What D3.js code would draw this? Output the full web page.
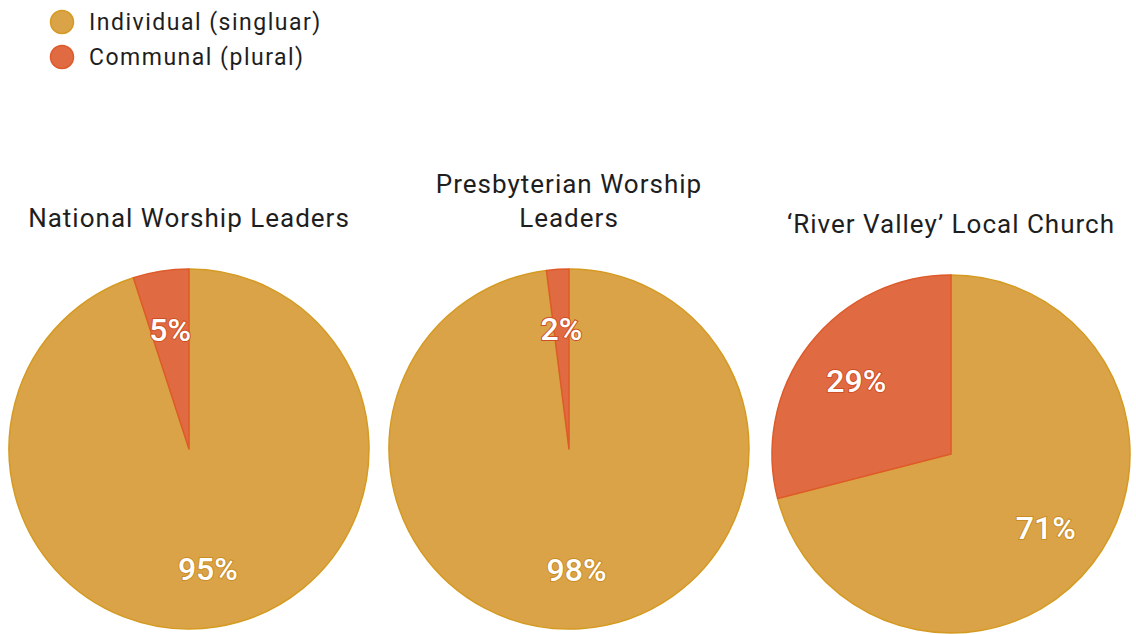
<!DOCTYPE html>
<html>
<head>
<meta charset="utf-8">
<script src="https://cdn.jsdelivr.net/npm/d3@7"></script>
<style>
  html, body { margin: 0; padding: 0; background: #ffffff; }
  svg { display: block; }
</style>
</head>
<body>
<svg id="chart" width="1136" height="634"></svg>
<script>
// Response categories
const legendLabels = ["Individual (singluar)", "Communal (plural)"];
// Panel titles (one entry per line)
const panelTitles = [
  ["National Worship Leaders"],
  ["Presbyterian Worship", "Leaders"],
  ["\u2018River Valley\u2019 Local Church"]
];
// Shares in percent, per panel
const individualShare = [95, 98, 71];
const communalShare = [5, 2, 29];

const fills = ["#DBA347", "#E06B43"];
const edges = ["#D49A22", "#DE5A2A"];
const halos = ["#C98C25", "#CF4F25"];

const svg = d3.select("#chart");
const font = "Roboto, 'Open Sans', sans-serif";

// Legend
const legend = svg.append("g").attr("transform", "translate(62,22)");
legendLabels.forEach((lab, i) => {
  const g = legend.append("g").attr("transform", `translate(0,${i * 35})`);
  g.append("circle").attr("r", 11.5).attr("fill", fills[i])
    .attr("stroke", edges[i]).attr("stroke-width", 1.5);
  g.append("text").attr("x", 27).attr("y", 0).attr("dy", "0.35em")
    .attr("font-family", font).attr("font-size", 23)
    .attr("letter-spacing", 1.5).attr("fill", "#1e1e1e")
    .text(lab);
});

// Panel layout
const centres = [
  { x: 189, y: 449, r: 180, titleY: 227 },
  { x: 569, y: 449, r: 180, titleY: 227 },
  { x: 951, y: 454, r: 179, titleY: 233 }
];

const pie = d3.pie().sort(null).value(d => d.value);

centres.forEach((c, p) => {
  const data = [
    { key: legendLabels[0], value: individualShare[p], idx: 0 },
    { key: legendLabels[1], value: communalShare[p], idx: 1 }
  ];
  const arcs = pie(data);
  const arc = d3.arc().innerRadius(0).outerRadius(c.r);
  const labelArc = d3.arc().innerRadius(c.r * 0.67).outerRadius(c.r * 0.67);

  const g = svg.append("g").attr("transform", `translate(${c.x},${c.y})`);

  g.selectAll("path.slice").data(arcs).join("path")
    .attr("class", "slice")
    .attr("d", arc)
    .attr("fill", d => fills[d.data.idx])
    .attr("stroke", d => edges[d.data.idx])
    .attr("stroke-width", 1.5)
    .attr("stroke-linejoin", "round");

  g.selectAll("text.val").data(arcs).join("text")
    .attr("class", "val")
    .attr("transform", d => `translate(${labelArc.centroid(d)})`)
    .attr("text-anchor", "middle")
    .attr("dy", "0.36em")
    .attr("font-family", font)
    .attr("font-size", 32)
    .attr("font-weight", 500)
    .attr("fill", "#ffffff")
    .attr("stroke", d => halos[d.data.idx])
    .attr("stroke-width", 2)
    .attr("paint-order", "stroke")
    .text(d => d.data.value + "%");

  // Title
  const lines = panelTitles[p];
  const t = svg.append("text")
    .attr("text-anchor", "middle")
    .attr("font-family", font)
    .attr("font-size", 26)
    .attr("letter-spacing", 1)
    .attr("fill", "#1e1e1e");
  lines.forEach((ln, i) => {
    t.append("tspan")
      .attr("x", c.x)
      .attr("y", c.titleY - (lines.length - 1 - i) * 34)
      .text(ln);
  });
});
</script>
</body>
</html>
